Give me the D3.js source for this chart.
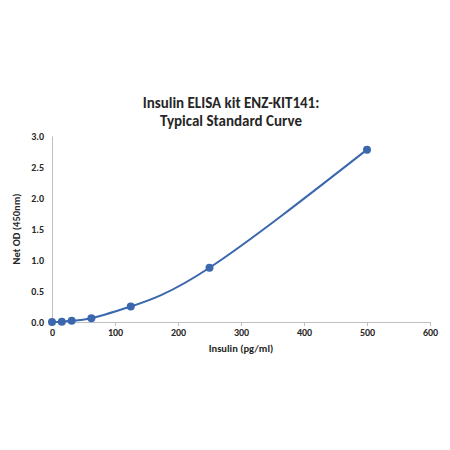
<!DOCTYPE html>
<html><head><meta charset="utf-8">
<script src="https://cdn.jsdelivr.net/npm/d3@7"></script>
<style>body{margin:0;background:#fff}text{font-family:Calibri,"Liberation Sans",Arial,sans-serif}</style>
</head><body><svg id="c" width="450" height="450"></svg>
<script>
const concentrations=[0,15.6,31.25,62.5,125,250,500];
const odValues=[0,0.005,0.02,0.06,0.25,0.875,2.78];
const xTicks=[0,100,200,300,400,500,600];
const yTicks=[0,0.5,1,1.5,2,2.5,3];
const svg=d3.select("#c");
const x=d3.scaleLinear().domain([0,600]).range([52,430]);
const y=d3.scaleLinear().domain([0,3]).range([322,136]);
const ink="#262626";
svg.append("text").attr("x",231).attr("y",108).attr("text-anchor","middle").attr("font-size",15).attr("font-weight","bold").attr("fill",ink).text("Insulin ELISA kit ENZ-KIT141:");
svg.append("text").attr("x",231).attr("y",126).attr("text-anchor","middle").attr("font-size",15).attr("font-weight","bold").attr("fill",ink).text("Typical Standard Curve");
const gx=svg.append("g").attr("transform","translate(0,322)").call(d3.axisBottom(x).tickValues(xTicks).tickSize(4).tickPadding(3).tickFormat(d3.format("d")));
const gy=svg.append("g").attr("transform","translate(52,0)").call(d3.axisLeft(y).tickValues(yTicks).tickSize(0).tickPadding(8).tickFormat(d3.format(".1f")));
[gx,gy].forEach(g=>{g.selectAll("path,line").attr("stroke","#bfbfbf");g.selectAll("text").attr("font-size",10).attr("font-weight","bold").attr("fill",ink).attr("font-family","Calibri,'Liberation Sans',Arial,sans-serif");});
svg.append("text").attr("x",241).attr("y",352).attr("text-anchor","middle").attr("font-size",10.5).attr("font-weight","bold").attr("fill",ink).text("Insulin (pg/ml)");
svg.append("text").attr("transform","translate(20,229) rotate(-90)").attr("text-anchor","middle").attr("font-size",10.5).attr("font-weight","bold").attr("fill",ink).text("Net OD (450nm)");
const data=concentrations.map((c,i)=>[c,odValues[i]]);
svg.append("path").datum(data).attr("fill","none").attr("stroke","#3a67ad").attr("stroke-width",2)
 .attr("d",d3.line().x(d=>x(d[0])).y(d=>y(d[1])).curve(d3.curveNatural));
svg.selectAll("circle").data(data).join("circle").attr("cx",d=>x(d[0])).attr("cy",d=>y(d[1])).attr("r",4).attr("fill","#3a67ad");
</script></body></html>
